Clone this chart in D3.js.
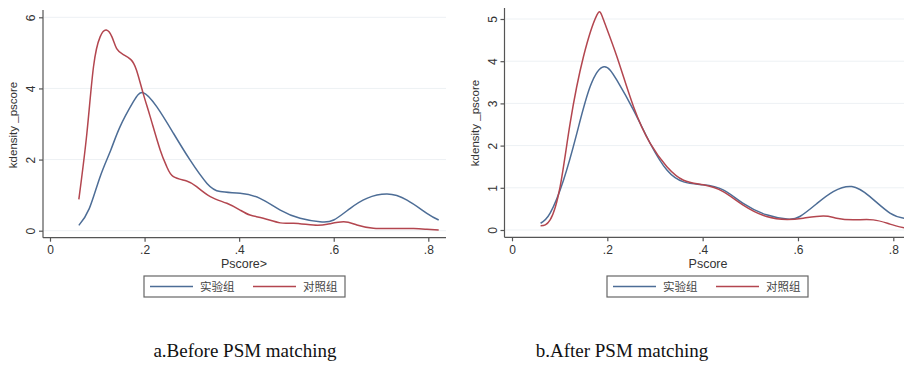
<!DOCTYPE html>
<html>
<head>
<meta charset="utf-8">
<script src="https://cdn.jsdelivr.net/npm/d3@7"></script>
<style>
  body { margin: 0; background: #fff; }
  svg { display: block; }
</style>
</head>
<body>
<svg id="chart" width="904" height="372"></svg>
<script>
// kernel density of pscore
const xTicks = [0, 0.2, 0.4, 0.6, 0.8];
const xTickLabels = ['0', '.2', '.4', '.6', '.8'];
const seriesNames = ['实验组', '对照组'];

const beforeTreated = [
  [0.061, 0.15], [0.083, 0.62], [0.106, 1.52], [0.128, 2.25], [0.148, 2.92], [0.176, 3.62], [0.197, 3.88],
  [0.226, 3.48], [0.261, 2.74], [0.296, 1.99], [0.332, 1.33], [0.360, 1.10], [0.402, 1.05],
  [0.444, 0.91], [0.487, 0.58], [0.529, 0.35], [0.571, 0.25], [0.600, 0.30], [0.635, 0.63],
  [0.670, 0.91], [0.713, 1.03], [0.755, 0.86], [0.797, 0.49], [0.822, 0.30]
];
const beforeControl = [
  [0.061, 0.88], [0.078, 2.74], [0.092, 4.61], [0.106, 5.45], [0.119, 5.64], [0.131, 5.45],
  [0.141, 5.12], [0.155, 4.95], [0.171, 4.81], [0.183, 4.51], [0.197, 3.86], [0.212, 3.20],
  [0.233, 2.27], [0.247, 1.80], [0.261, 1.52], [0.289, 1.40], [0.310, 1.24], [0.339, 0.96],
  [0.374, 0.77], [0.402, 0.58], [0.423, 0.44], [0.451, 0.35], [0.487, 0.22], [0.515, 0.21],
  [0.557, 0.16], [0.586, 0.18], [0.621, 0.25], [0.649, 0.16], [0.684, 0.07], [0.727, 0.06],
  [0.769, 0.06], [0.797, 0.04], [0.822, 0.02]
];
const afterTreated = [
  [0.060, 0.16], [0.080, 0.40], [0.108, 1.18], [0.136, 2.29], [0.164, 3.40], [0.193, 3.87],
  [0.220, 3.55], [0.255, 2.84], [0.290, 2.05], [0.325, 1.42], [0.360, 1.14], [0.401, 1.07],
  [0.443, 0.95], [0.485, 0.63], [0.534, 0.36], [0.577, 0.26], [0.604, 0.32], [0.640, 0.63],
  [0.674, 0.91], [0.713, 1.03], [0.751, 0.79], [0.793, 0.40], [0.823, 0.28]
];
const afterControl = [
  [0.060, 0.10], [0.080, 0.24], [0.101, 1.03], [0.122, 2.53], [0.150, 4.11], [0.178, 5.09],
  [0.192, 4.98], [0.220, 4.11], [0.255, 2.92], [0.290, 2.05], [0.325, 1.50], [0.360, 1.18],
  [0.401, 1.07], [0.443, 0.91], [0.485, 0.59], [0.534, 0.32], [0.577, 0.25], [0.611, 0.28],
  [0.653, 0.33], [0.681, 0.28], [0.716, 0.24], [0.758, 0.24], [0.793, 0.14], [0.823, 0.05]
];

const colors = ['#4d6d96', '#b3464f'];

const svg = d3.select('#chart');

function drawPanel(cfg) {
  const g = svg.append('g');

  const x = d3.scaleLinear().domain([0, 0.8]).range([cfg.x0, cfg.x8]);
  const y = d3.scaleLinear().domain([0, cfg.yMax]).range([cfg.y0, cfg.yTop]);

  // faint grid at major y ticks
  g.selectAll('.grid')
    .data(cfg.yTicks)
    .enter()
    .append('line')
    .attr('x1', cfg.axisX + 1)
    .attr('x2', cfg.right)
    .attr('y1', d => y(d))
    .attr('y2', d => y(d))
    .attr('stroke', '#edf1f4')
    .attr('stroke-width', 1);

  // y axis, labels turned like Stata does
  const yAxis = g.append('g')
    .attr('transform', `translate(${cfg.axisX},0)`)
    .call(d3.axisLeft(y).tickValues(cfg.yTicks).tickSize(4).tickSizeOuter(0).tickFormat(d3.format('d')));
  yAxis.select('.domain').attr('d', `M0,${cfg.top}V${cfg.axisY}`);
  yAxis.selectAll('text')
    .attr('x', 0)
    .attr('y', 0)
    .attr('dy', 0)
    .attr('transform', 'translate(-8,0) rotate(-90)')
    .attr('text-anchor', 'middle');

  // x axis
  const xAxis = g.append('g')
    .attr('transform', `translate(0,${cfg.axisY})`)
    .call(d3.axisBottom(x).tickValues(xTicks).tickSize(4).tickSizeOuter(0).tickFormat((d, i) => xTickLabels[i]));
  xAxis.select('.domain').attr('d', `M${cfg.axisX},0H${cfg.right}`);
  xAxis.selectAll('text').attr('y', 8);

  g.selectAll('.domain, .tick line').attr('stroke', '#555').attr('stroke-width', 1.2);
  g.selectAll('.tick text')
    .attr('fill', '#333')
    .style('font-family', 'Liberation Sans, Arial, sans-serif')
    .style('font-size', '12px');

  // axis titles
  g.append('text')
    .attr('transform', `translate(${cfg.yTitleX},${cfg.yTitleY}) rotate(-90)`)
    .attr('text-anchor', 'middle')
    .attr('fill', '#333')
    .style('font-family', 'Liberation Sans, Arial, sans-serif')
    .style('font-size', '11.5px')
    .text('kdensity _pscore');

  g.append('text')
    .attr('x', cfg.xTitleX)
    .attr('y', 268)
    .attr('text-anchor', 'middle')
    .attr('fill', '#333')
    .style('font-family', 'Liberation Sans, Arial, sans-serif')
    .style('font-size', '12.5px')
    .text(cfg.xTitle);

  // curves
  const line = d3.line()
    .x(d => x(d[0]))
    .y(d => y(d[1]))
    .curve(d3.curveNatural);

  g.selectAll('.curve')
    .data(cfg.series)
    .enter()
    .append('path')
    .attr('d', d => line(d))
    .attr('fill', 'none')
    .attr('stroke', (d, i) => colors[i])
    .attr('stroke-width', 1.5);

  // legend
  const lg = g.append('g').attr('transform', `translate(${cfg.legendX},276)`);
  lg.append('rect')
    .attr('width', 201)
    .attr('height', 21)
    .attr('fill', '#fff')
    .attr('stroke', '#666')
    .attr('stroke-width', 1.2);

  seriesNames.forEach((name, i) => {
    const ox = 6 + i * 103;
    lg.append('line')
      .attr('x1', ox)
      .attr('x2', ox + 43)
      .attr('y1', 10.5)
      .attr('y2', 10.5)
      .attr('stroke', colors[i])
      .attr('stroke-width', 1.5);
    lg.append('text')
      .attr('x', ox + 50)
      .attr('y', 15)
      .attr('fill', '#444')
      .style('font-family', 'Noto Sans CJK SC, sans-serif')
      .style('font-size', '11.5px')
      .text(name);
  });

  // caption
  svg.append('text')
    .attr('x', cfg.captionX)
    .attr('y', 357)
    .attr('text-anchor', 'middle')
    .attr('fill', '#111')
    .style('font-family', 'Liberation Serif, serif')
    .style('font-size', '19px')
    .text(cfg.caption);
}

drawPanel({
  x0: 50, x8: 428.3, y0: 230.7, yTop: 17.3, yMax: 6,
  yTicks: [0, 2, 4, 6],
  axisX: 43, axisY: 237.7, top: 10, right: 446,
  yTitleX: 17, yTitleY: 125, xTitleX: 244, xTitle: 'Pscore>',
  legendX: 144, captionX: 245, caption: 'a.Before PSM matching',
  series: [beforeTreated, beforeControl]
});

drawPanel({
  x0: 512, x8: 893.3, y0: 230, yTop: 19, yMax: 5,
  yTicks: [0, 1, 2, 3, 4, 5],
  axisX: 504.5, axisY: 237.3, top: 8, right: 904,
  yTitleX: 479, yTitleY: 123, xTitleX: 708, xTitle: 'Pscore',
  legendX: 607, captionX: 622, caption: 'b.After PSM matching',
  series: [afterTreated, afterControl]
});
</script>
</body>
</html>
